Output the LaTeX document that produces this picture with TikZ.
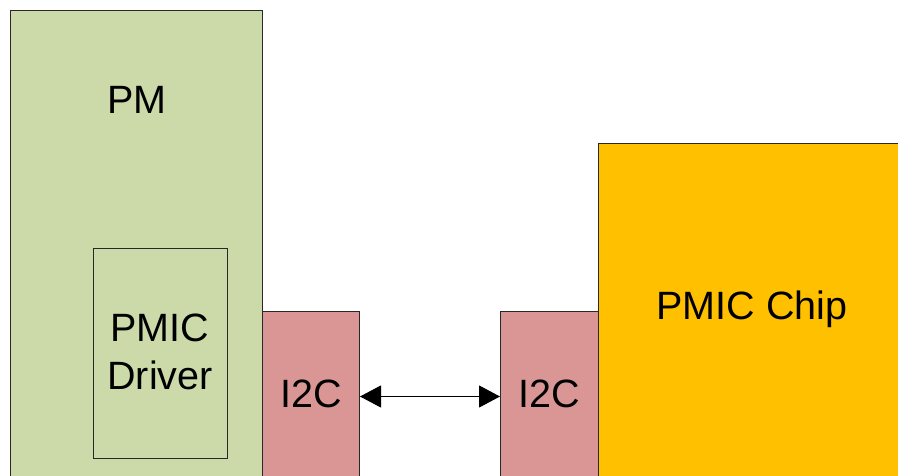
\documentclass[tikz,border=0pt]{standalone}
\usepackage{fontspec}
\setmainfont{Liberation Sans}
\usetikzlibrary{arrows.meta}
\definecolor{pmgreen}{RGB}{204,218,170}
\definecolor{i2cpink}{RGB}{217,150,148}
\definecolor{chiporange}{RGB}{255,192,0}
\definecolor{edgegray}{RGB}{40,40,40}
\begin{document}
\begin{tikzpicture}[x=1pt,y=-1pt,
  box/.style={draw=edgegray,line width=1pt,inner sep=0pt,anchor=north west},
  lbl/.style={font=\fontsize{39.5}{48}\selectfont,align=center,inner sep=0pt},
  link/.style={line width=1pt,{Triangle[length=21pt,width=22pt]}-{Triangle[length=21pt,width=22pt]}}]
\useasboundingbox (0,0) rectangle (898,476);
\clip (0,0) rectangle (898,476);
\fill[white] (0,0) rectangle (898,476);
\node[box,fill=pmgreen,minimum width=252pt,minimum height=490pt] (pm) at (10,10) {};
\node[box,fill=pmgreen,minimum width=134pt,minimum height=210pt] (drv) at (93,248) {};
\node[box,fill=i2cpink,minimum width=97pt,minimum height=170pt] (i2cL) at (262,311) {};
\node[box,fill=i2cpink,minimum width=98pt,minimum height=170pt] (i2cR) at (500,311) {};
\node[box,fill=chiporange,minimum width=320pt,minimum height=360pt] (chip) at (598,143) {};
\node[lbl] (pmtext) at (137,100) {PM};
\node[lbl] (drvtext) at (160,352) {PMIC\\Driver};
\node[lbl] (i2cLtext) at (311,394) {I2C};
\node[lbl] (i2cRtext) at (549,394) {I2C};
\node[lbl] (chiptext) at (752,309) {PMIC Chip};
\draw[link] (i2cL.east) -- (i2cR.west);
\end{tikzpicture}
\end{document}
